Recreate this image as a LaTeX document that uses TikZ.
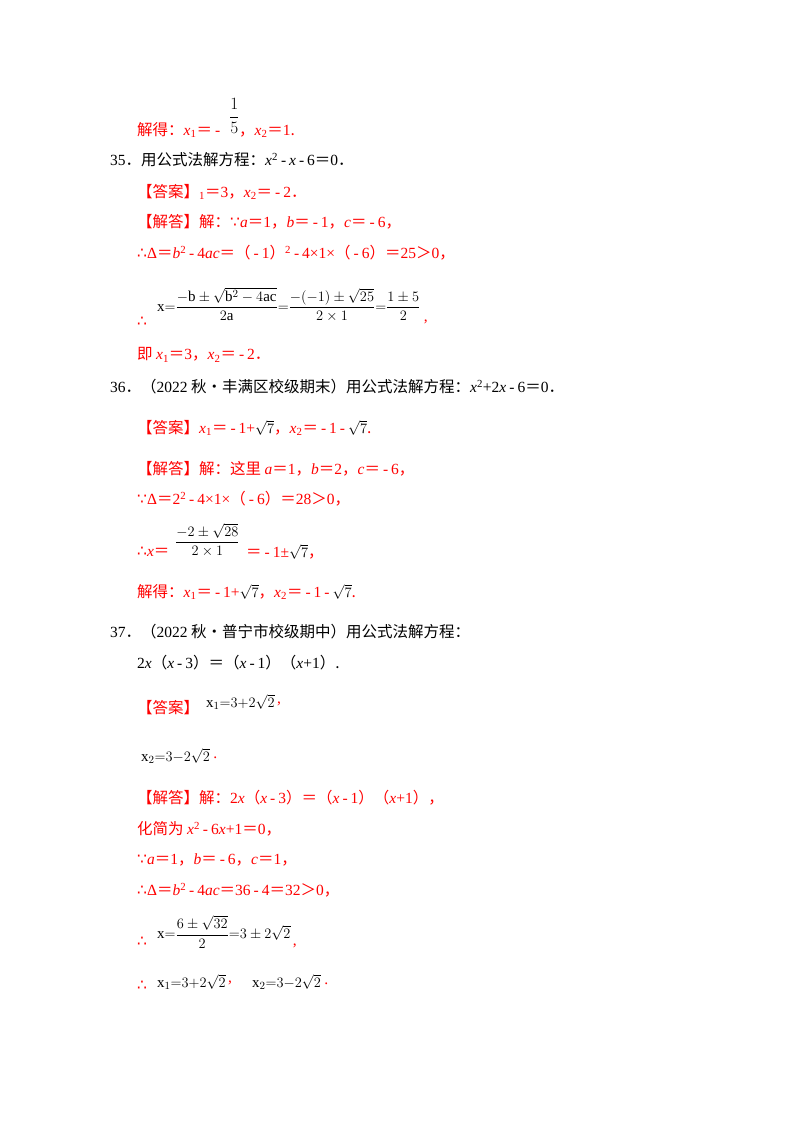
\documentclass[tikz,border=0pt]{standalone}
\usepackage{amsmath}
\usepackage{fontspec}
\setmainfont{Liberation Serif}
\newfontfamily\cjk{Noto Sans CJK SC}
\newfontfamily\dv{DejaVu Sans}
\newcommand\zh[1]{{\cjk #1}}
\newcommand\vv[1]{\textit{#1}}
\newcommand\sub[1]{\textsubscript{#1}}
\newcommand\sups[1]{\textsuperscript{#1}}
\newcommand\so{{\dv ∴}}
\newcommand\bc{{\dv ∵}}
\newcommand\mi{\hspace{3pt}-\hspace{3pt}}
\begin{document}
\begin{tikzpicture}[x=1pt,y=-1pt,
  rd/.style={anchor=west,inner sep=0,text=red,font=\fontsize{15.5}{18}\selectfont},
  bk/.style={anchor=west,inner sep=0,text=black,font=\fontsize{15.5}{18}\selectfont},
  fm/.style={anchor=west,inner sep=0,text=black,font=\fontsize{15}{17}\selectfont}]
\useasboundingbox (0,0) rectangle (800,1132);
% top
\node[rd] (l1) at (137,130) {\zh{解得：}\vv{x}\sub{1}\zh{＝}\mi\hspace{16pt}\zh{，}\vv{x}\sub{2}\zh{＝}1\zh{.}};
\node[fm,font=\fontsize{17}{19}\selectfont] (f1) at (229,116) {$\displaystyle\frac{1}{5}$};
% 35
\node[bk] (q35) at (110,160) {35\zh{．用公式法解方程：}\vv{x}\sups{2}\mi\vv{x}\mi 6\zh{＝}0\zh{．}};
\node[rd] (a35) at (137,192) {\zh{【答案】}\sub{1}\zh{＝}3\zh{，}\vv{x}\sub{2}\zh{＝}\mi 2\zh{．}};
\node[rd] (s35) at (137,222) {\zh{【解答】解：}\bc\vv{a}\zh{＝}1\zh{，}\vv{b}\zh{＝}\mi 1\zh{，}\vv{c}\zh{＝}\mi 6\zh{，}};
\node[rd] (d35) at (137,253) {\so Δ\zh{＝}\vv{b}\sups{2}\mi 4\vv{ac}\zh{＝（}\mi 1\zh{）}\sups{2}\mi 4×1×\zh{（}\mi 6\zh{）＝}25\zh{＞}0\zh{，}};
\node[rd] (t35) at (137,322) {\so};
\node[fm] (e35) at (157,305) {$\mathrm{x}{=}\dfrac{-\mathrm{b}\pm\sqrt{\mathrm{b}^2-4\mathrm{ac}}}{2\mathrm{a}}{=}\dfrac{-(-1)\pm\sqrt{25}}{2\times1}{=}\dfrac{1\pm5}{2}$};
\node[rd,anchor=south west] (c35) at ([xshift=3pt,yshift=-2pt]e35.south east) {,};
\node[rd] (j35) at (137,355) {\zh{即 }\vv{x}\sub{1}\zh{＝}3\zh{，}\vv{x}\sub{2}\zh{＝}\mi 2\zh{．}};
% 36
\node[bk] (q36) at (110,387) {36\zh{．（}2022\zh{ 秋•丰满区校级期末）用公式法解方程：}\vv{x}\sups{2}+2\vv{x}\mi 6\zh{＝}0\zh{．}};
\node[rd] (a36) at (137,428) {\zh{【答案】}\vv{x}\sub{1}\zh{＝}\mi 1+\textcolor{black}{$\sqrt{7}$}\zh{，}\vv{x}\sub{2}\zh{＝}\mi 1\mi\textcolor{black}{$\sqrt{7}$}\zh{.}};
\node[rd] (s36) at (137,469) {\zh{【解答】解：这里 }\vv{a}\zh{＝}1\zh{，}\vv{b}\zh{＝}2\zh{，}\vv{c}\zh{＝}\mi 6\zh{，}};
\node[rd] (d36) at (137,499) {\bc Δ\zh{＝}2\sups{2}\mi 4×1×\zh{（}\mi 6\zh{）＝}28\zh{＞}0\zh{，}};
\node[rd] (x36) at (137,552) {\so\vv{x}\zh{＝}};
\node[fm] (e36) at (175,540) {$\dfrac{-2\pm\sqrt{28}}{2\times1}$};
\node[rd] (r36) at (246,552) {\zh{＝}\mi 1±\textcolor{black}{$\sqrt{7}$}\zh{，}};
\node[rd] (j36) at (137,592) {\zh{解得：}\vv{x}\sub{1}\zh{＝}\mi 1+\textcolor{black}{$\sqrt{7}$}\zh{，}\vv{x}\sub{2}\zh{＝}\mi 1\mi\textcolor{black}{$\sqrt{7}$}\zh{.}};
% 37
\node[bk] (q37) at (110,632) {37\zh{．（}2022\zh{ 秋•普宁市校级期中）用公式法解方程：}};
\node[bk] (q37b) at (137,663) {2\vv{x}\zh{（}\vv{x}\mi 3\zh{）＝（}\vv{x}\mi 1\zh{）（}\vv{x}+1\zh{）.}};
\node[rd] (a37) at (137,708) {\zh{【答案】}};
\node[fm] (e37a) at (206,702) {$\mathrm{x}_1{=}3{+}2\sqrt{2}$};
\node[rd,anchor=south west] (c37a) at ([xshift=2pt,yshift=4pt]e37a.south east) {,};
\node[fm] (e37b) at (141,756) {$\mathrm{x}_2{=}3{-}2\sqrt{2}$};
\node[rd,anchor=south west] (c37b) at ([xshift=3pt,yshift=5pt]e37b.south east) {.};
\node[rd] (s37) at (137,798) {\zh{【解答】解：}2\vv{x}\zh{（}\vv{x}\mi 3\zh{）＝（}\vv{x}\mi 1\zh{）（}\vv{x}+1\zh{），}};
\node[rd] (h37) at (137,829) {\zh{化简为 }\vv{x}\sups{2}\mi 6\vv{x}+1\zh{＝}0\zh{，}};
\node[rd] (b37) at (137,860) {\bc\vv{a}\zh{＝}1\zh{，}\vv{b}\zh{＝}\mi 6\zh{，}\vv{c}\zh{＝}1\zh{，}};
\node[rd] (d37) at (137,890) {\so Δ\zh{＝}\vv{b}\sups{2}\mi 4\vv{ac}\zh{＝}36\mi 4\zh{＝}32\zh{＞}0\zh{，}};
\node[rd] (t37) at (137,942) {\so};
\node[fm] (e37) at (157,932) {$\mathrm{x}{=}\dfrac{6\pm\sqrt{32}}{2}{=}3\pm2\sqrt{2}$};
\node[rd,anchor=south west] (c37) at ([xshift=2pt,yshift=0pt]e37.south east) {,};
\node[rd] (u37) at (137,986) {\so};
\node[fm] (e37c) at (157,982) {$\mathrm{x}_1{=}3{+}2\sqrt{2}$};
\node[rd,anchor=south west] (c37c) at ([xshift=2pt,yshift=5pt]e37c.south east) {,};
\node[fm] (e37d) at (252,982) {$\mathrm{x}_2{=}3{-}2\sqrt{2}$};
\node[rd,anchor=south west] (c37d) at ([xshift=3pt,yshift=5pt]e37d.south east) {.};
\end{tikzpicture}
\end{document}
